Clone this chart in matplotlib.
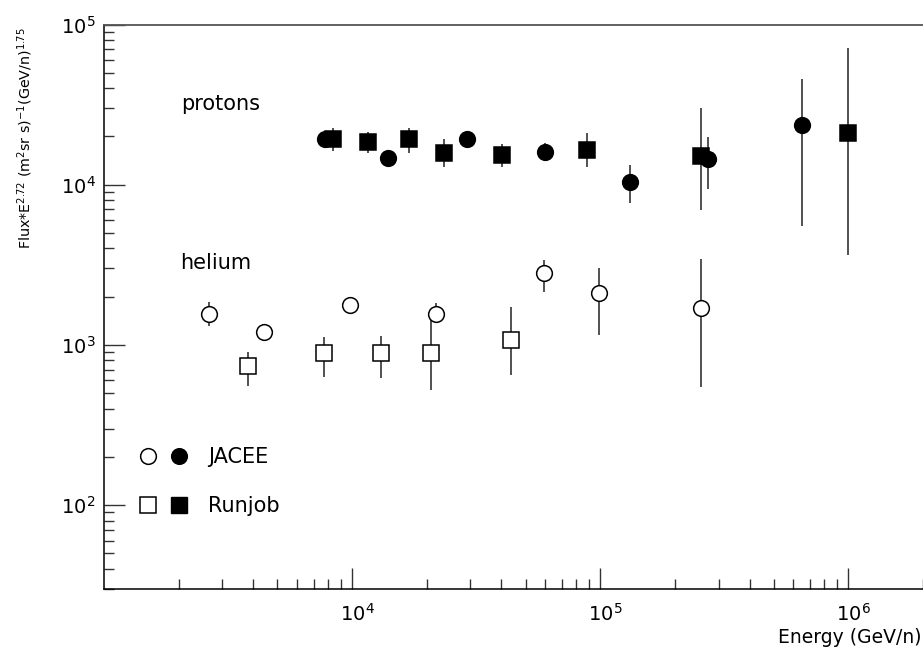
import matplotlib
matplotlib.use("Agg")
import matplotlib.pyplot as plt
import matplotlib.transforms as mtransforms
from matplotlib.lines import Line2D
from matplotlib.legend_handler import HandlerTuple
from matplotlib.ticker import LogLocator, FuncFormatter, NullFormatter, FixedLocator
import numpy as np

# ---- data ----
# protons, JACEE (filled circles)
p_jacee_x = [7800, 14000, 29000, 59700, 132000, 273000, 649000]
p_jacee_y = [19200, 14700, 19400, 16100, 10400, 14500, 23600]
p_jacee_lo = [19200, 14700, 19400, 14200, 7700, 9440, 5500]
p_jacee_hi = [19200, 14700, 19400, 18100, 13300, 19800, 45700]

# protons, Runjob (filled squares)
p_runjob_x = [8340, 11600, 16900, 23400, 40100, 88200, 254000, 1000000]
p_runjob_y = [19200, 18400, 19400, 15800, 15300, 16500, 15000, 20900]
p_runjob_lo = [16300, 15700, 15800, 12950, 12950, 12950, 6900, 3640]
p_runjob_hi = [22500, 21400, 22700, 19200, 17900, 20900, 30000, 71000]

# helium, JACEE (open circles)
he_jacee_x = [2660, 4420, 9790, 21700, 59600, 98800, 254000]
he_jacee_y = [1560, 1200, 1770, 1560, 2800, 2120, 1710]
he_jacee_lo = [1310, 1200, 1770, 1360, 2150, 1160, 548]
he_jacee_hi = [1860, 1200, 1770, 1820, 3390, 3010, 3440]

# helium, Runjob (open squares)
he_runjob_x = [3810, 7690, 13100, 20800, 43600]
he_runjob_y = [741, 885, 893, 885, 1072]
he_runjob_lo = [556, 632, 621, 522, 648]
he_runjob_hi = [906, 1124, 1135, 1443, 1730]

x_major = [1e4, 1e5, 1e6]
y_major = [1e2, 1e3, 1e4, 1e5]

plt.rcParams["mathtext.default"] = "regular"
plt.rcParams["font.family"] = "DejaVu Sans"

fig = plt.figure(figsize=(9.23, 6.5), dpi=100)
ax = fig.add_axes([104 / 923, 1 - 588.8 / 650, 1 - 104 / 923, (588.8 - 24.5) / 650])

MS = 11.3


def series(x, y, lo, hi, marker, filled):
    x, y = np.array(x, float), np.array(y, float)
    err = [y - np.array(lo, float), np.array(hi, float) - y]
    ax.errorbar(x, y, yerr=err, fmt="none", ecolor="#222222", elinewidth=1.1,
                capsize=0, zorder=2)
    ax.plot(x, y, ls="none", marker=marker, ms=MS,
            mfc="black" if filled else "white", mec="black", mew=1.1, zorder=3)


series(p_runjob_x, p_runjob_y, p_runjob_lo, p_runjob_hi, "s", True)
series(p_jacee_x, p_jacee_y, p_jacee_lo, p_jacee_hi, "o", True)
series(he_runjob_x, he_runjob_y, he_runjob_lo, he_runjob_hi, "s", False)
series(he_jacee_x, he_jacee_y, he_jacee_lo, he_jacee_hi, "o", False)

ax.set_xscale("log")
ax.set_yscale("log")
ax.set_xlim(1e3, 2e6)
ax.set_ylim(30, 1e5)

fmt = FuncFormatter(lambda v, p: r"$10^{%d}$" % round(np.log10(v)))
for axis, majors in ((ax.xaxis, x_major), (ax.yaxis, y_major)):
    axis.set_major_locator(FixedLocator(majors))
    axis.set_minor_locator(LogLocator(base=10, subs=np.arange(2, 10), numticks=20))
    axis.set_minor_formatter(NullFormatter())
    axis.set_major_formatter(fmt)

ax.tick_params(which="both", direction="in", top=False, right=False, width=1,
               color="#333333")
ax.tick_params(which="major", length=15, labelsize=14)
ax.tick_params(which="minor", length=7)
ax.tick_params(axis="x", which="major", pad=10)
ax.tick_params(axis="y", which="major", pad=6)

# nudge x labels so the "10" sits centred on the tick
shift = mtransforms.ScaledTranslation(0.055, 0, fig.dpi_scale_trans)
for lbl in ax.get_xticklabels():
    lbl.set_transform(lbl.get_transform() + shift)

ax.spines["right"].set_visible(False)
ax.spines["top"].set_color("#555555")
ax.spines["top"].set_linewidth(1.3)
for s in ("left", "bottom"):
    ax.spines[s].set_linewidth(1.1)

ax.text(0.094, 0.848, "protons", transform=ax.transAxes, fontsize=15, va="baseline")
ax.text(0.093, 0.566, "helium", transform=ax.transAxes, fontsize=15, va="baseline")

h_open_c = Line2D([], [], ls="none", marker="o", ms=MS, mfc="white", mec="black", mew=1.1)
h_fill_c = Line2D([], [], ls="none", marker="o", ms=MS, mfc="black", mec="black")
h_open_s = Line2D([], [], ls="none", marker="s", ms=MS, mfc="white", mec="black", mew=1.1)
h_fill_s = Line2D([], [], ls="none", marker="s", ms=MS, mfc="black", mec="black")
ax.legend([(h_open_c, h_fill_c), (h_open_s, h_fill_s)], ["JACEE", "Runjob"],
          handler_map={tuple: HandlerTuple(ndivide=None, pad=0)},
          loc="center left", bbox_to_anchor=(0.0351, 0.190), frameon=False,
          fontsize=15, borderpad=0, borderaxespad=0, handlelength=2.976,
          handletextpad=0.65, labelspacing=1.38)

fig.text(25 / 923, 1 - 27 / 650,
         r"Flux*E$^{2.72}$ (m$^{2}$sr s)$^{-1}$(GeV/n)$^{1.75}$",
         rotation=90, ha="center", va="top", fontsize=10.3)
fig.text(921 / 923, 1 - 643 / 650, "Energy (GeV/n)", ha="right", va="baseline",
         fontsize=13.5)

fig.savefig("out.png", dpi=100)
